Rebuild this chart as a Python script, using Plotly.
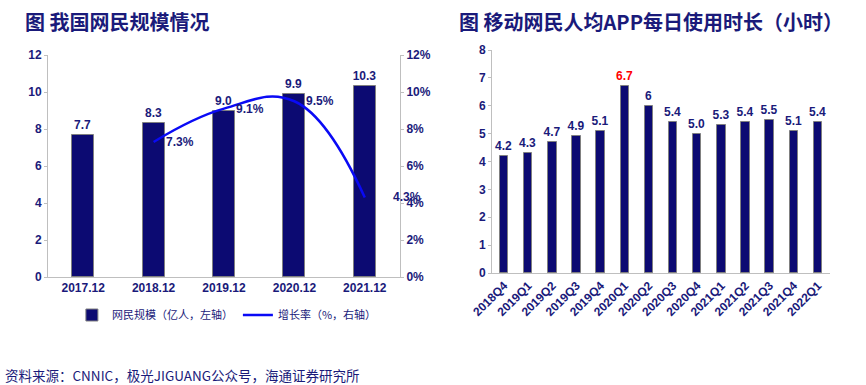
import plotly.graph_objects as go

# ---- data ----
years = ["2017.12", "2018.12", "2019.12", "2020.12", "2021.12"]
netizens = [7.7, 8.3, 9.0, 9.9, 10.3]
growth_years = ["2018.12", "2019.12", "2020.12", "2021.12"]
growth = [7.3, 9.1, 9.5, 4.3]

quarters = ["2018Q4", "2019Q1", "2019Q2", "2019Q3", "2019Q4", "2020Q1", "2020Q2",
            "2020Q3", "2020Q4", "2021Q1", "2021Q2", "2021Q3", "2021Q4", "2022Q1"]
hours = [4.2, 4.3, 4.7, 4.9, 5.1, 6.7, 6.0, 5.4, 5.0, 5.3, 5.4, 5.5, 5.1, 5.4]
hour_labels = ["4.2", "4.3", "4.7", "4.9", "5.1", "6.7", "6", "5.4", "5.0", "5.3",
               "5.4", "5.5", "5.1", "5.4"]

NAVY = "#0C0A72"
TXT = "#1A1A7A"
AX = "#BFBFBF"
FONT = "Liberation Sans, Arial, Noto Sans CJK SC, sans-serif"
CJK = "Noto Sans CJK SC, sans-serif"

W, H = 866, 385
def px_x(a, b): return [a / W, b / W]
def px_y(top, bot): return [(H - bot) / H, (H - top) / H]

fig = go.Figure()

fig.add_trace(go.Bar(
    x=years, y=netizens, name="网民规模（亿人，左轴）",
    marker=dict(color=NAVY, line=dict(color="#808080", width=1)),
    width=0.31,
    text=[f"{v:.1f}" for v in netizens], textposition="outside", constraintext="none",
    textfont=dict(family=FONT, size=12, color=TXT, weight="bold"),
    cliponaxis=False, xaxis="x", yaxis="y"))

fig.add_trace(go.Scatter(
    x=growth_years, y=[g / 100 for g in growth], name="增长率（%，右轴）",
    mode="lines", line=dict(color="#0A0AF5", width=2.5, shape="spline", smoothing=1.2),
    xaxis="x", yaxis="y3"))

for i, (xv, gv) in enumerate(zip(growth_years, growth)):
    fig.add_annotation(x=years.index(xv), y=gv / 100, xref="x", yref="y3", text=f"{gv}%",
                       showarrow=False, xanchor="left",
                       xshift=(26 if i == len(growth) - 1 else 10),
                       font=dict(family=FONT, size=12, color=TXT, weight="bold"))

fig.add_trace(go.Bar(
    x=quarters, y=hours, showlegend=False,
    marker=dict(color=NAVY, line=dict(color="#808080", width=1)),
    width=0.35,
    text=hour_labels, textposition="outside", constraintext="none",
    textfont=dict(family=FONT, size=12, weight="bold",
                  color=["#FF0000" if q == "2020Q1" else TXT for q in quarters]),
    cliponaxis=False, xaxis="x2", yaxis="y2"))

tickfont = dict(family=FONT, size=12, color=TXT, weight="bold")

fig.update_layout(
    width=W, height=H, margin=dict(l=0, r=0, t=0, b=0, autoexpand=False),
    paper_bgcolor="white", plot_bgcolor="white",
    showlegend=True, bargap=0,
    xaxis=dict(type="category", domain=px_x(48, 400), anchor="y", range=[-0.5, len(years) - 0.5],
               showline=True, linecolor=AX, ticks="", tickfont=tickfont, showgrid=False,
               automargin=False),
    yaxis=dict(domain=px_y(55, 277), anchor="x", range=[0, 12], dtick=2,
               showline=True, linecolor=AX, ticks="outside", ticklen=3, tickcolor=AX,
               tickfont=tickfont, showgrid=False, zeroline=False, automargin=False),
    yaxis3=dict(overlaying="y", side="right", anchor="x", range=[0, 0.12], dtick=0.02,
                tickformat=".0%", showline=True, linecolor=AX, ticks="outside",
                ticklen=3, tickcolor=AX, tickfont=tickfont, showgrid=False,
                zeroline=False, automargin=False),
    xaxis2=dict(type="category", domain=px_x(492, 830), anchor="y2", showline=True,
                linecolor=AX, ticks="", tickangle=-45,
                tickfont=dict(family=FONT, size=12, color=TXT, weight="bold"),
                showgrid=False, automargin=False),
    yaxis2=dict(domain=px_y(50, 273), anchor="x2", range=[0, 8], dtick=1,
                showline=True, linecolor=AX, ticks="outside", ticklen=3, tickcolor=AX,
                tickfont=tickfont, showgrid=False, zeroline=False, automargin=False),
    legend=dict(orientation="h", x=0.262, xanchor="center", y=(H - 315) / H,
                yanchor="middle", font=dict(family=CJK, size=11, color=TXT),
                itemwidth=30, tracegroupgap=0, bgcolor="rgba(0,0,0,0)"),
)

fig.add_annotation(x=23 / W, y=(H - 21) / H, xref="paper", yref="paper",
                   text="图 我国网民规模情况", showarrow=False, xanchor="left", yanchor="middle",
                   font=dict(family=CJK, size=20, color=TXT, weight="bold"))
fig.add_annotation(x=457 / W, y=(H - 21) / H, xref="paper", yref="paper",
                   text="图 移动网民人均<b>APP</b>每日使用时长（小时）", showarrow=False,
                   xanchor="left", yanchor="middle",
                   font=dict(family=CJK, size=20, color=TXT, weight="bold"))
fig.add_annotation(x=3 / W, y=(H - 375) / H, xref="paper", yref="paper",
                   text="资料来源：CNNIC，极光JIGUANG公众号，海通证券研究所", showarrow=False,
                   xanchor="left", yanchor="middle",
                   font=dict(family=CJK, size=13.5, color=TXT))

fig.write_html("out.html", config={"displayModeBar": False},
               post_script="document.body.style.margin='0';")
